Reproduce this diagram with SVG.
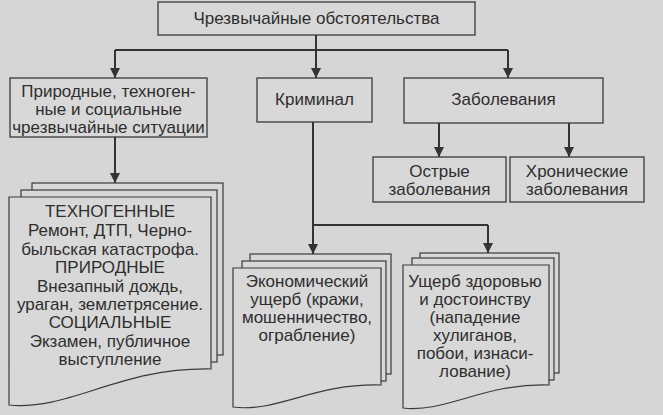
<svg xmlns="http://www.w3.org/2000/svg" width="663" height="415" viewBox="0 0 663 415">
<defs>
<marker id="arr" viewBox="0 0 10 14" refX="10" refY="7" markerWidth="10" markerHeight="14" markerUnits="userSpaceOnUse" orient="auto">
<path d="M0,2 L10,7 L0,12 Z" fill="#333"/>
</marker>
<style>
.bg{fill:#d6d6d6}
.box{fill:#d8d8d8;stroke:#3a3a3a;stroke-width:1.3}
.pg{fill:#d8d8d8;stroke:#3a3a3a;stroke-width:1.2}
.t{font-family:"Liberation Sans",Arial,sans-serif;font-size:17px;fill:#2e2e2e;text-anchor:middle}
.c{fill:none;stroke:#333;stroke-width:2}
</style>
</defs>
<rect class="bg" x="0" y="0" width="663" height="415"/>

<g id="connectors">
<path class="c" d="M316,35 V50"/>
<path class="c" d="M115,50 H508"/>
<path class="c" d="M115,50 V78" marker-end="url(#arr)"/>
<path class="c" d="M316,50 V78" marker-end="url(#arr)"/>
<path class="c" d="M508,50 V78" marker-end="url(#arr)"/>
<path class="c" d="M115,137 V183" marker-end="url(#arr)"/>
<path class="c" d="M439,123 V157" marker-end="url(#arr)"/>
<path class="c" d="M569,123 V157" marker-end="url(#arr)"/>
<path class="c" d="M313,122 V225 H488"/>
<path class="c" d="M313,225 V254" marker-end="url(#arr)"/>
<path class="c" d="M488,225 V253" marker-end="url(#arr)"/>
</g>

<g id="n-top">
<rect class="box" x="158" y="2" width="317" height="33"/>
<text class="t" x="316.5" y="24">Чрезвычайные обстоятельства</text>
</g>

<g id="n-situations">
<rect class="box" x="10" y="78" width="197" height="59"/>
<text class="t" x="108.5" y="97">Природные, техноген-</text>
<text class="t" x="108.5" y="115">ные и социальные</text>
<text class="t" x="108.5" y="133">чрезвычайные ситуации</text>
</g>

<g id="n-criminal">
<rect class="box" x="257" y="78" width="115" height="44"/>
<text class="t" x="314.5" y="105">Криминал</text>
</g>

<g id="n-diseases">
<rect class="box" x="404" y="78" width="199" height="45"/>
<text class="t" x="503.5" y="105">Заболевания</text>
</g>

<g id="n-acute">
<rect class="box" x="373" y="157" width="133" height="45"/>
<text class="t" x="439.5" y="177">Острые</text>
<text class="t" x="439.5" y="195">заболевания</text>
</g>

<g id="n-chronic">
<rect class="box" x="510" y="157" width="134" height="45"/>
<text class="t" x="577" y="177">Хронические</text>
<text class="t" x="577" y="195">заболевания</text>
</g>

<g id="n-examples">
<rect class="pg" x="32" y="183" width="191" height="172"/>
<rect class="pg" x="21" y="190" width="196" height="172"/>
<path class="pg" d="M9,197 H211 V369 C120,367 70,411 9,405 Z"/>
<text class="t" x="110" y="217">ТЕХНОГЕННЫЕ</text>
<text class="t" x="110" y="236">Ремонт, ДТП, Черно-</text>
<text class="t" x="110" y="255">быльская катастрофа.</text>
<text class="t" x="110" y="273">ПРИРОДНЫЕ</text>
<text class="t" x="110" y="292">Внезапный дождь,</text>
<text class="t" x="110" y="310">ураган, землетрясение.</text>
<text class="t" x="110" y="328">СОЦИАЛЬНЫЕ</text>
<text class="t" x="110" y="347">Экзамен, публичное</text>
<text class="t" x="110" y="365">выступление</text>
</g>

<g id="n-economic">
<rect class="pg" x="250" y="254" width="141" height="120"/>
<rect class="pg" x="242" y="261" width="144" height="120"/>
<path class="pg" d="M233,268 H381 V385 C314,383 277,413 233,407 Z"/>
<text class="t" x="307" y="287">Экономический</text>
<text class="t" x="307" y="305">ущерб (кражи,</text>
<text class="t" x="307" y="323">мошенничество,</text>
<text class="t" x="307" y="341">ограбление)</text>
</g>

<g id="n-health">
<rect class="pg" x="420" y="253" width="139" height="120"/>
<rect class="pg" x="412" y="258" width="142" height="122"/>
<path class="pg" d="M403,265 H549 V385 C483,383 447,413 403,408 Z"/>
<text class="t" x="475" y="287">Ущерб здоровью</text>
<text class="t" x="475" y="305">и достоинству</text>
<text class="t" x="475" y="323">(нападение</text>
<text class="t" x="475" y="341">хулиганов,</text>
<text class="t" x="475" y="359">побои, изнаси-</text>
<text class="t" x="475" y="377">лование)</text>
</g>
</svg>
